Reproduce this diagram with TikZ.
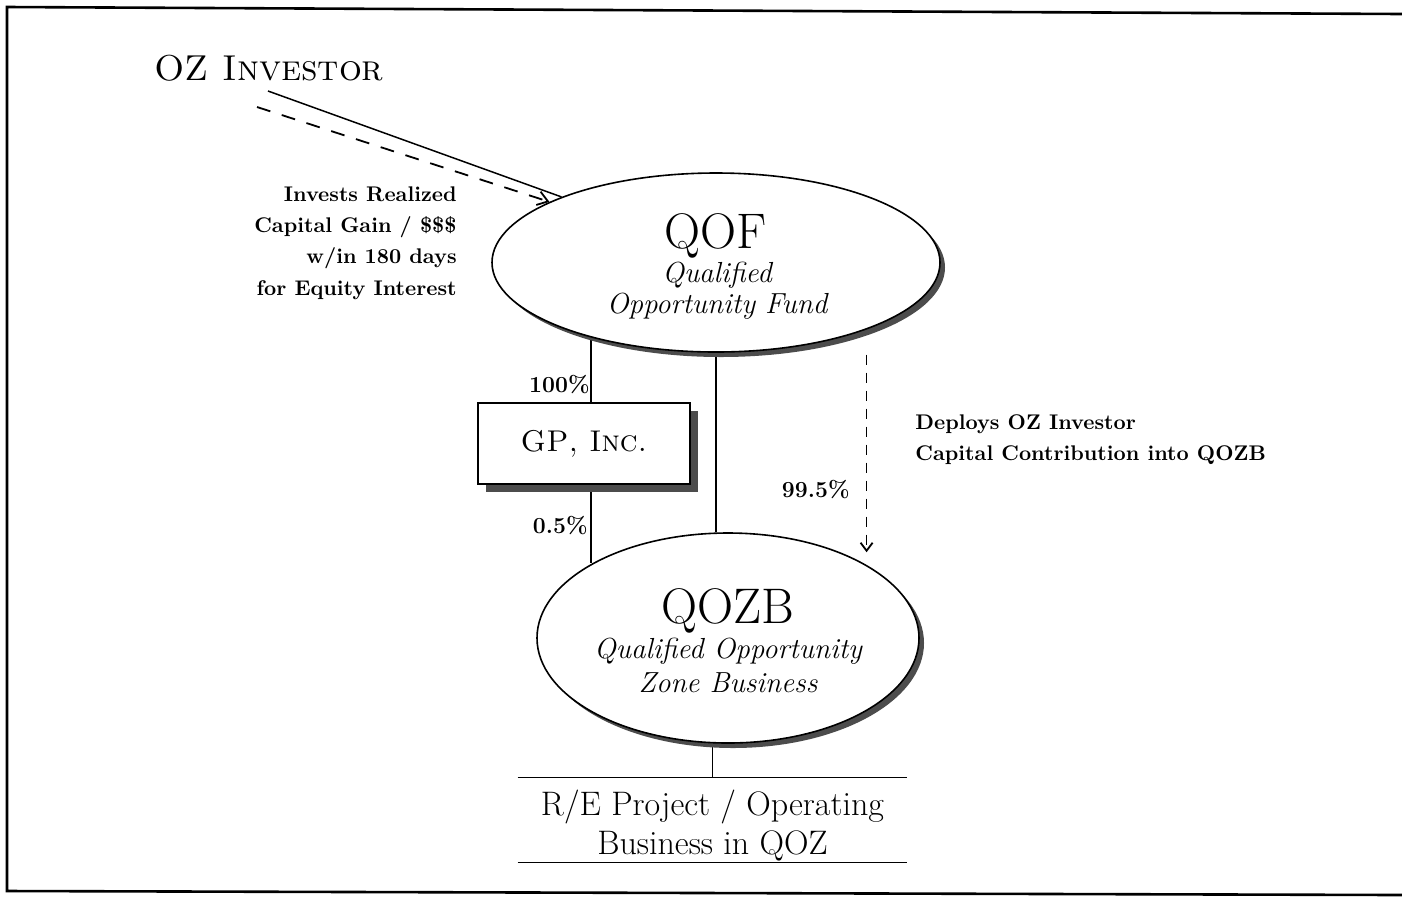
\documentclass[tikz,border=0pt]{standalone}
\usepackage{fontspec}
\usetikzlibrary{shapes.geometric,shadows,arrows.meta,backgrounds}
\begin{document}
\begin{tikzpicture}[x=0.5pt,y=-0.5pt,
  ell/.style={ellipse, draw, line width=0.8pt, fill=white, inner sep=0pt,
    drop shadow={shadow xshift=2.5pt, shadow yshift=-2.5pt, fill=black!70, opacity=1}},
  gpbox/.style={rectangle, draw, line width=0.8pt, fill=white, inner sep=0pt,
    minimum width=106pt, minimum height=40.5pt,
    drop shadow={shadow xshift=4pt, shadow yshift=-4pt, fill=black!70, opacity=1}},
  conn/.style={line width=0.75pt},
  dsh/.style={line width=0.9pt, dash pattern=on 7pt off 6pt},
  vdsh/.style={line width=0.9pt, dash pattern=on 5pt off 4pt},
  lbl/.style={font=\fontsize{10.6}{15.7}\selectfont\bfseries, inner sep=0pt},
  pct/.style={font=\fontsize{11.5}{13}\selectfont\bfseries, inner sep=0pt},
  big/.style={font=\fontsize{25}{28}\selectfont, inner sep=0pt, anchor=base},
  sub/.style={font=\fontsize{14.5}{16}\selectfont\itshape, inner sep=0pt, anchor=base}]
\useasboundingbox (0,0) rectangle (1402,896);

% frame
\draw[line width=1.3pt] (1402,14) -- (7,7) -- (7,891) -- (1402,895);

% investor
\node[font=\fontsize{18}{20}\selectfont\scshape, inner sep=0pt] (oz) at (269,68) {OZ Investor};

% main shapes
\node[ell, minimum width=224pt, minimum height=89.5pt] (qof) at (716,262.5) {};
\node[ell, minimum width=191pt, minimum height=105pt] (qozb) at (728,638) {};
\node[gpbox, font=\fontsize{15}{18}\selectfont\scshape] (gp) at (584,443.5) {GP, Inc.};
\node[minimum width=194.5pt, minimum height=42pt, inner sep=0pt] (re) at (712.5,820) {};
\node[align=center, inner sep=0pt, font=\fontsize{17}{19.5}\selectfont] (ret) at (712.5,826)
  {R/E Project / Operating\\Business in QOZ};
\draw[conn] (re.north west) -- (re.north east);
\draw[conn] (re.south west) -- (re.south east);

% texts in ellipses
\node[big] (qoft) at (716,248) {QOF};
\node[sub] (qofa) at (717,282) {Qualified};
\node[sub] (qofb) at (717,313) {Opportunity Fund};
\node[big] (qozbt) at (728,623) {QOZB};
\node[sub] (qozba) at (728,658) {Qualified Opportunity};
\node[sub] (qozbb) at (728,692) {Zone Business};

% connectors behind shapes
\coordinate (lx) at (qof.211);
\begin{scope}[on background layer]
\draw[conn] (lx) -- (gp.north -| lx);
\draw[conn] (gp.south -| lx) -- (lx |- qozb.151.5);
\draw[conn] (qof.south) -- (qof.south |- qozb.north);
\draw[conn] (re.north) -- (re.north |- qozb.south);
\end{scope}

% investor arrows
\coordinate (ozs) at (268,91);
\coordinate (ozd) at (257,107);
\draw[conn] (ozs) -- (qof.157.7);
\draw[dsh, -{Straight Barb[length=5pt,width=7pt]}] (ozd) -- (qof.160.7);

% deploy arrow
\coordinate (dtop) at (qof.336.7);
\draw[vdsh, -{Straight Barb[length=4pt,width=6pt]}, shorten <=12.5pt, shorten >=7pt]
  (dtop) -- (dtop |- qozb.27);

% labels
\node[lbl, align=right, anchor=north east] (inv) at (457,186)
  {Invests Realized\\Capital Gain / \$\$\$\\w/in 180 days\\for Equity Interest};
\node[lbl, align=left, anchor=north west] (dep) at (915,414)
  {Deploys OZ Investor\\Capital Contribution into QOZB};
\node[pct, anchor=base east] (p100) at (590,392) {100\%};
\node[pct, anchor=base east] (p05) at (588,533) {0.5\%};
\node[pct, anchor=base east] (p995) at (850,497) {99.5\%};
\end{tikzpicture}
\end{document}
